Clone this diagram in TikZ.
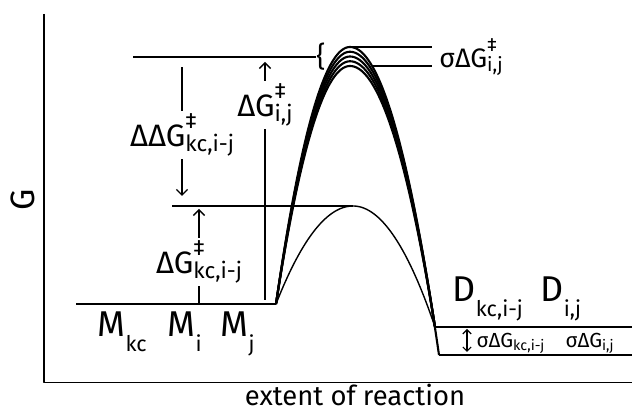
\documentclass[tikz,border=0pt]{standalone}
\usepackage{fontspec}
\setmainfont{Fira Sans}
\usepackage{graphicx}
\usetikzlibrary{arrows.meta}
\newcommand{\lowtxt}[3][0.4em]{\raisebox{-#1}{\scalebox{#2}{#3}}}
\newcommand{\supsub}[2]{\rlap{\raisebox{0.58em}{\scalebox{0.72}{#1}}}\raisebox{-0.14em}{\scalebox{0.72}{#2}}}
\begin{document}
\begin{tikzpicture}[x=0.025cm,y=0.025cm,line width=1pt,>={Straight Barb[length=4pt,width=8pt]},line join=round,
    big/.style={font=\fontsize{25.5}{30}\selectfont,anchor=base west,inner sep=0pt},
    mid/.style={font=\fontsize{22}{26}\selectfont,inner sep=2pt},
    tiny/.style={font=\fontsize{14.5}{17}\selectfont,anchor=base west,inner sep=0pt},
    bundle/.style={line width=1.5pt,smooth,variable=\x,samples=50}]
  \useasboundingbox (0,0) rectangle (633,414);
  % axes
  \coordinate (top) at (44,400);
  \coordinate (O) at (44,31.5);
  \coordinate (right) at (632,31.5);
  \draw (top) -- (O) -- (right);
  \node[font=\fontsize{24}{28}\selectfont,rotate=90] (Glab) at (23,214) {G};
  \node[font=\fontsize{19.5}{23}\selectfont,inner sep=0pt,anchor=base] (xlab) at (355,8) {extent of reaction};
  % states
  \coordinate (M0) at (76,110);
  \coordinate (M1) at (276,110);
  \coordinate (Dk0) at (435,87);
  \coordinate (Dk1) at (632,87);
  \coordinate (Dij0) at (439,59);
  \coordinate (Dij1) at (632,59);
  \draw (M0) -- (M1);
  \draw (Dk0) -- (Dk1);
  \draw (Dij0) -- (Dij1);
  \node[big] (Mkc) at (97,77) {M\lowtxt{0.6}{kc}};
  \node[big] (Mi) at (167,77) {M\lowtxt{0.6}{i}};
  \node[big] (Mj) at (220,77) {M\lowtxt{0.6}{j}};
  \node[big] (Dkc) at (452,112) {D\lowtxt{0.6}{kc,i-j}};
  \node[big] (Dij) at (540,112) {D\lowtxt{0.6}{i,j}};
  % barriers: one for kc, a family of five for i,j
  \draw[bundle,line width=1pt,domain=276:353] plot ({\x},{208-98*((\x-353)/77)*((\x-353)/77)})
    -- plot[domain=353:435] ({\x},{208-121*((\x-353)/82)*((\x-353)/82)});
  \foreach \p/\xe/\ye in {367/439/59,362.25/435/87,357.5/435/87,352.75/435/87,348/435/87}{
    \draw[bundle,domain=276:350] plot ({\x},{\p-(\p-110)*((\x-350)/74)*((\x-350)/74)})
      -- plot[domain=350:\xe] ({\x},{\p-(\p-\ye)*((\x-350)/(\xe-350))*((\x-350)/(\xe-350))});
  }
  % reference levels
  \coordinate (ts0) at (133,357);
  \node[font=\fontsize{20}{24}\selectfont,inner sep=0pt] (brace) at (321,357) {\{};
  \draw (ts0) -- (brace);
  \coordinate (kc0) at (172,208);
  \coordinate (kcpeak) at (353,208);
  \draw (kc0) -- (kcpeak);
  \coordinate (pk0) at (350,367);
  \coordinate (pk1) at (432,367);
  \coordinate (pl0) at (372,348);
  \coordinate (pl1) at (432,348);
  \draw (pk0) -- (pk1);
  \draw (pl0) -- (pl1);
  \node[font=\fontsize{19}{22}\selectfont,anchor=west] (sdGij) at (434,357) {σΔG\supsub{‡}{i,j}};
  % barrier heights
  \node[mid] (dGij) at (265,309) {ΔG\supsub{‡}{i,j}};
  \coordinate (ij0) at (265,114);
  \coordinate (ij1) at (265,352);
  \draw[->] (dGij) -- (ij1);
  \draw (dGij) -- (ij0);
  \node[mid] (ddG) at (182,279) {ΔΔG\supsub{‡}{kc,i-j}};
  \coordinate (dd0) at (182,347);
  \coordinate (dd1) at (182,218);
  \draw (ddG) -- (dd0);
  \draw[->] (ddG) -- (dd1);
  \node[mid] (dGkc) at (199,152) {ΔG\supsub{‡}{kc,i-j}};
  \coordinate (kcA) at (199,205);
  \coordinate (kcB) at (199,110);
  \draw[->] (dGkc) -- (kcA);
  \draw (dGkc) -- (kcB);
  % spread of the products
  \coordinate (sp0) at (467,85);
  \coordinate (sp1) at (467,62);
  \draw[<->,line width=0.8pt,>={Straight Barb[length=3pt,width=6pt]}] (sp0) -- (sp1);
  \node[tiny] (sdGkc) at (476,66) {σΔG\lowtxt[0.12em]{0.7}{kc,i-j}};
  \node[tiny] (sdGi) at (565,66) {σΔG\lowtxt[0.12em]{0.7}{i,j}};
\end{tikzpicture}
\end{document}
